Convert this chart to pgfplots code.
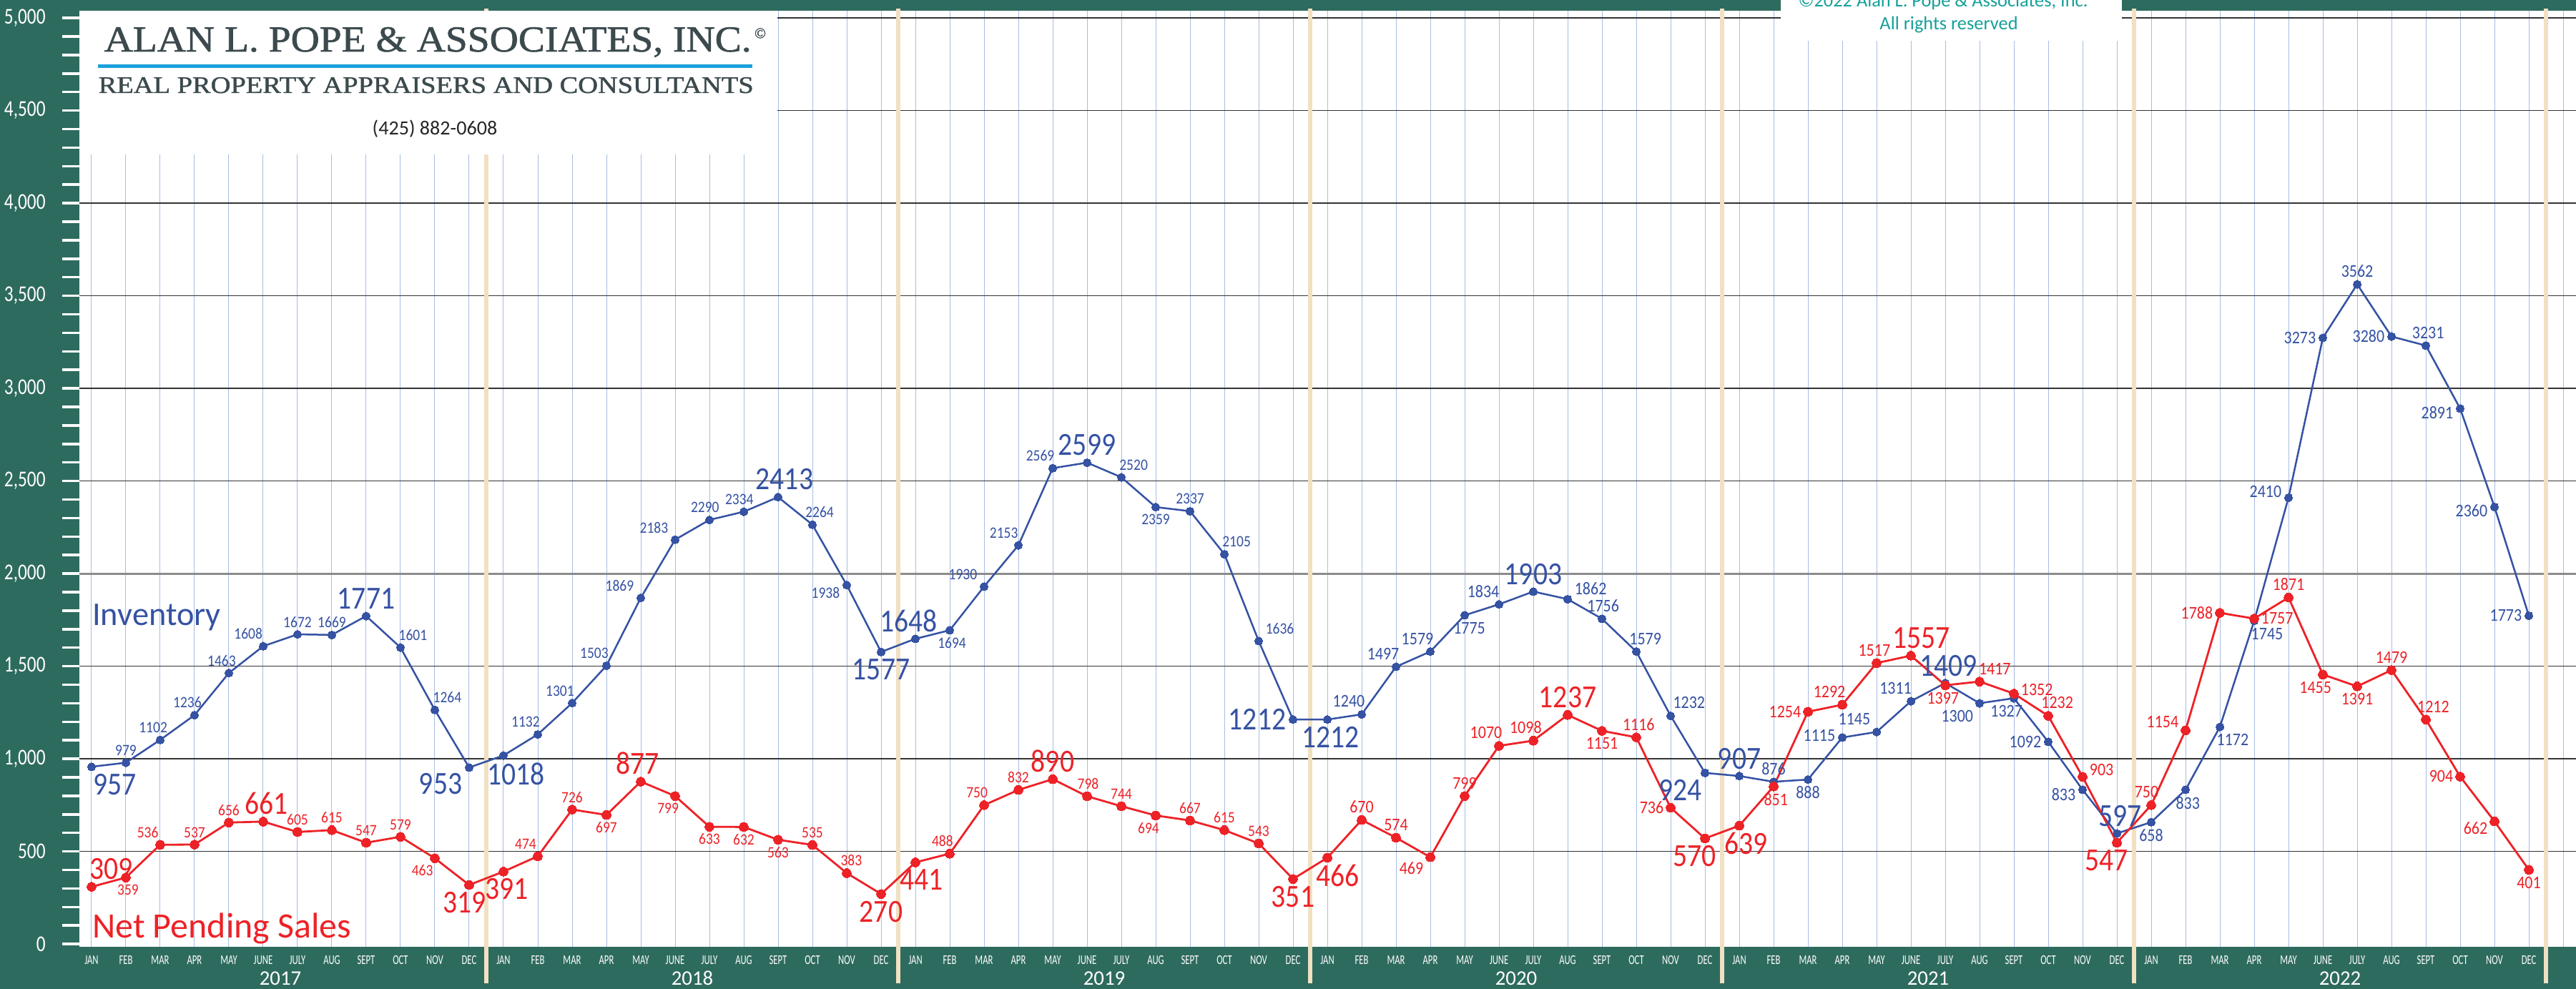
\documentclass[border=0pt]{standalone}
\usepackage{pgfplots}
\pgfplotsset{compat=1.18}
\usepackage{pgfplotstable}
\usepackage{graphicx}
\usepackage{fontspec}
\setmainfont{Carlito}
\newfontfamily\lblfont[FakeStretch=0.88]{Carlito}
\newfontfamily\ytfontfam[FakeStretch=0.8]{Carlito}
\newfontfamily\monthfam[FakeStretch=0.68]{Carlito}
\newfontfamily\logoserif[FakeBold=1.2]{Liberation Serif}
\newcommand\lblsmallA{\lblfont\fontsize{6.3}{7}\selectfont}
\newcommand\lblsmallB{\lblfont\fontsize{7.1}{8}\selectfont}
\newcommand\lblbig{\lblfont\fontsize{12.8}{14}\selectfont}
\newcommand\lblf[1]{\ifcase#1\relax\lblsmallA\or\lblbig\or\lblsmallB\fi}
\definecolor{bgteal}{HTML}{2E6B5F}
\definecolor{invblue}{HTML}{3552A3}
\definecolor{npred}{HTML}{ED2227}
\definecolor{gridblue}{HTML}{A8BDE2}
\definecolor{hgrid}{HTML}{333333}
\definecolor{yearline}{HTML}{F1E0C2}
\definecolor{logogray}{HTML}{3C4A4E}
\definecolor{logoblue}{HTML}{1CA1DC}
\definecolor{copyteal}{HTML}{17A09A}

\pgfplotstableread{
x y a b
0 957 143 1
1 979 270 0
2 1102 300 0
3 1236 300 0
4 1463 300 0
5 1608 320 0
6 1672 270 0
7 1669 270 0
8 1771 270 1
9 1601 225 0
10 1264 225 0
11 953 30 1
12 1018 125 1
13 1132 315 0
14 1301 315 0
15 1503 315 0
16 1869 330 0
17 2183 330 0
18 2290 290 0
19 2334 290 0
20 2413 250 1
21 2264 240 0
22 1938 20 0
23 1577 90 1
24 1648 290 1
25 1694 100 0
26 1930 330 0
27 2153 320 0
28 2569 315 0
29 2599 270 1
30 2520 225 0
31 2359 90 0
32 2337 270 0
33 2105 225 0
34 1636 210 0
35 1212 0 1
36 1212 100 1
37 1240 315 2
38 1497 315 2
39 1579 315 2
40 1775 110 2
41 1834 320 2
42 1903 270 1
43 1862 205 2
44 1756 265 2
45 1579 235 2
46 1232 215 2
47 924 35 1
48 907 270 1
49 876 270 2
50 888 90 2
51 1115 355 2
52 1145 330 2
53 1311 320 2
54 1409 260 1
55 1300 30 2
56 1327 60 2
57 1092 0 2
58 833 15 2
59 597 260 1
60 658 90 2
61 833 100 2
62 1172 135 2
63 1745 135 2
64 2410 345 2
65 3273 0 2
66 3562 270 2
67 3280 0 2
68 3231 260 2
69 2891 10 2
70 2360 10 2
71 1773 0 2
}\invtab

\pgfplotstableread{
x y a b
0 309 222 1
1 359 100 0
2 536 315 0
3 537 270 0
4 656 270 0
5 661 260 1
6 605 270 0
7 615 270 0
8 547 270 0
9 579 270 0
10 463 45 0
11 319 75 1
12 391 100 1
13 474 315 0
14 726 270 0
15 697 90 0
16 877 280 1
17 799 60 0
18 633 90 0
19 632 90 0
20 563 90 0
21 535 270 0
22 383 250 0
23 270 90 1
24 441 110 1
25 488 300 0
26 750 300 0
27 832 270 0
28 890 270 1
29 798 265 0
30 744 270 0
31 694 60 0
32 667 270 0
33 615 270 0
34 543 270 0
35 351 90 1
36 466 120 1
37 670 270 2
38 574 270 2
39 469 30 2
40 799 270 2
41 1070 315 2
42 1098 300 2
43 1237 270 1
44 1151 90 2
45 1116 260 2
46 736 0 2
47 570 60 1
48 639 110 1
49 851 100 2
50 1254 0 2
51 1292 315 2
52 1517 280 2
53 1557 240 1
54 1397 80 2
55 1417 220 2
56 1352 190 2
57 1232 235 2
58 903 200 2
59 547 60 1
60 750 290 2
61 1154 340 2
62 1788 0 2
63 1757 180 2
64 1871 270 2
65 1455 60 2
66 1391 90 2
67 1479 270 2
68 1212 240 2
69 904 0 2
70 662 20 2
71 401 90 2
}\nptab

\begin{document}
\begin{tikzpicture}
\useasboundingbox (0,0) rectangle (360.2mm,138.3mm);
\clip (0,0) rectangle (360.2mm,138.3mm);
\fill[bgteal] (0,0) rectangle (360.2mm,138.3mm);
\begin{axis}[
  at={(11.1mm,5.9mm)}, anchor=south west,
  width=349.1mm, height=130.9mm, scale only axis,
  xmin=-0.354, xmax=72.375, ymin=-15, ymax=5039,
  clip=false,
  axis background/.style={fill=white},
  axis line style={draw=none},
  xtick={0,...,72},
  xticklabels={JAN,FEB,MAR,APR,MAY,JUNE,JULY,AUG,SEPT,OCT,NOV,DEC,
               JAN,FEB,MAR,APR,MAY,JUNE,JULY,AUG,SEPT,OCT,NOV,DEC,
               JAN,FEB,MAR,APR,MAY,JUNE,JULY,AUG,SEPT,OCT,NOV,DEC,
               JAN,FEB,MAR,APR,MAY,JUNE,JULY,AUG,SEPT,OCT,NOV,DEC,
               JAN,FEB,MAR,APR,MAY,JUNE,JULY,AUG,SEPT,OCT,NOV,DEC,
               JAN,FEB,MAR,APR,MAY,JUNE,JULY,AUG,SEPT,OCT,NOV,DEC,{}},
  xtick style={draw=none},
  xticklabel style={font=\monthfam\fontsize{5.3}{6}\selectfont, text=white, yshift=2.4mm},
  xmajorgrids,
  major x grid style={color=gridblue, line width=0.1mm},
  ytick={500,1000,...,5000},
  yticklabels={500,{1,000},{1,500},{2,000},{2,500},{3,000},{3,500},{4,000},{4,500},{5,000}},
  extra y ticks={0}, extra y tick labels={0},
  extra y tick style={grid=none},
  minor ytick={100,200,...,4900},
  ymajorgrids,
  major y grid style={color=hgrid, line width=0.16mm},
  ytick pos=left, tick align=outside,
  major tick length=2.4mm, minor tick length=2.4mm,
  tick style={white, line width=0.35mm},
  yticklabel style={font=\ytfontfam\fontsize{9}{10}\selectfont, text=white, xshift=-1.1mm},
]
\draw[black!45, line width=0.3mm] (axis cs:-0.354,2000) -- (axis cs:72.375,2000);
\pgfplotsinvokeforeach{11.5,23.5,35.5,47.5,59.5,71.5}{
  \draw[yearline, line width=0.6mm] ([yshift=-5.1mm]axis cs:#1,-15) -- ([yshift=0.3mm]axis cs:#1,5039);
}
\node[anchor=base, text=white, font=\fontsize{8.2}{9}\selectfont] at ([yshift=-5.4mm]axis cs:5.5,-15) {2017};
\node[anchor=base, text=white, font=\fontsize{8.2}{9}\selectfont] at ([yshift=-5.4mm]axis cs:17.5,-15) {2018};
\node[anchor=base, text=white, font=\fontsize{8.2}{9}\selectfont] at ([yshift=-5.4mm]axis cs:29.5,-15) {2019};
\node[anchor=base, text=white, font=\fontsize{8.2}{9}\selectfont] at ([yshift=-5.4mm]axis cs:41.5,-15) {2020};
\node[anchor=base, text=white, font=\fontsize{8.2}{9}\selectfont] at ([yshift=-5.4mm]axis cs:53.5,-15) {2021};
\node[anchor=base, text=white, font=\fontsize{8.2}{9}\selectfont] at ([yshift=-5.4mm]axis cs:65.5,-15) {2022};

\addplot[color=invblue, line width=0.25mm, mark=*, mark size=1.6pt,
  mark options={fill=invblue, draw=invblue, line width=0pt}]
  table[x=x, y=y] {\invtab};

\addplot[color=npred, line width=0.28mm, mark=*, mark size=1.8pt,
  mark options={fill=npred, draw=npred, line width=0pt}]
  table[x=x, y=y] {\nptab};

\pgfplotsinvokeforeach{0,...,71}{%
  \pgfplotstablegetelem{#1}{y}\of\invtab \let\vy\pgfplotsretval
  \pgfplotstablegetelem{#1}{a}\of\invtab \let\va\pgfplotsretval
  \pgfplotstablegetelem{#1}{b}\of\invtab \let\vb\pgfplotsretval
  \edef\temp{\noexpand\node[anchor=\va, inner sep=2.6pt, text=invblue, font=\noexpand\lblf{\vb}] at (axis cs:#1,\vy) {\vy};}%
  \temp
  \pgfplotstablegetelem{#1}{y}\of\nptab \let\vy\pgfplotsretval
  \pgfplotstablegetelem{#1}{a}\of\nptab \let\va\pgfplotsretval
  \pgfplotstablegetelem{#1}{b}\of\nptab \let\vb\pgfplotsretval
  \edef\temp{\noexpand\node[anchor=\va, inner sep=2.6pt, text=npred, font=\noexpand\lblf{\vb}] at (axis cs:#1,\vy) {\vy};}%
  \temp
}
\end{axis}

% series names
\node[anchor=base west, inner sep=0, text=invblue, font=\fontsize{13.2}{15}\selectfont] at (12.85mm,50.8mm) {Inventory};
\node[anchor=base west, inner sep=0, text=npred, font=\fontsize{14.2}{16}\selectfont] at (12.85mm,7.1mm) {Net Pending Sales};

% logo box
\fill[white] (11.1mm,116.7mm) rectangle (108.7mm,136.8mm);
\node[anchor=base west, inner sep=0, text=logogray] at (14.5mm,131.1mm)
  {\resizebox{90.5mm}{3.4mm}{\logoserif ALAN L. POPE \& ASSOCIATES, INC.}};
\node[inner sep=0, text=logogray, font=\logoserif\fontsize{6}{7}\selectfont] at (106.3mm,133.65mm) {©};
\fill[logoblue] (13.7mm,128.8mm) rectangle (105.2mm,129.3mm);
\node[anchor=base west, inner sep=0, text=logogray] at (13.7mm,125.3mm)
  {\resizebox{91.6mm}{2.2mm}{\logoserif REAL PROPERTY APPRAISERS AND CONSULTANTS}};
\node[inner sep=0, text=black!85, font=\fontsize{8}{9}\selectfont] at (60.8mm,120.3mm) {(425) 882-0608};

% copyright box
\fill[white] (249.0mm,132.6mm) rectangle (296.7mm,139mm);
\node[anchor=base, inner sep=0, text=copyteal, font=\fontsize{7.5}{8}\selectfont] at (271.7mm,137.3mm) {©2022 Alan L. Pope \& Associates, Inc.};
\node[anchor=base, inner sep=0, text=copyteal, font=\fontsize{7.5}{8}\selectfont] at (272.5mm,134.1mm) {All rights reserved};
\end{tikzpicture}
\end{document}
